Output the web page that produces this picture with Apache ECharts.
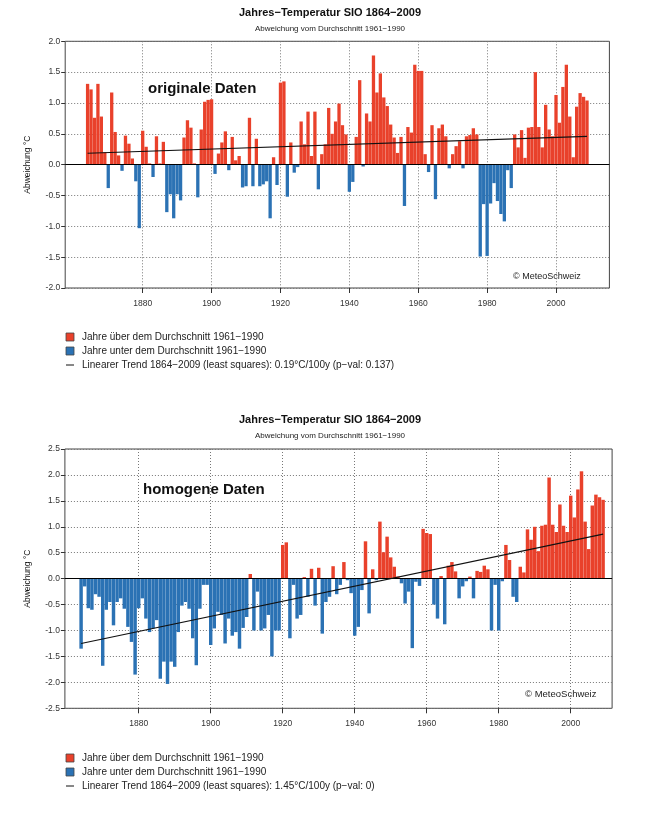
<!DOCTYPE html>
<html><head><meta charset="utf-8">
<script src="https://cdn.jsdelivr.net/npm/echarts@6/dist/echarts.min.js"></script>
<style>html,body{margin:0;padding:0;background:#fff}#c{width:664px;height:815px}</style>
</head><body><div id="c"></div>
<script>
// ---------------- DATA ----------------
const firstYear = 1864, lastYear = 2009;
const tickYears = [1880, 1900, 1920, 1940, 1960, 1980, 2000];

// Jahresabweichung, originale Daten (1864-2009)
const originalValues = [
  1.31,1.22,0.76,1.31,0.78,0.2,-0.38,1.17,0.53,0.15,-0.1,0.47,0.34,0.1,-0.27,-1.03,
  0.55,0.29,0.02,-0.2,0.46,0.02,0.37,-0.77,-0.48,-0.87,-0.48,-0.58,0.44,0.72,0.6,0.02,-0.53,0.57,1.02,1.05,
  1.06,-0.15,0.18,0.36,0.54,-0.09,0.45,0.07,0.14,-0.37,-0.35,0.76,-0.35,0.42,-0.35,-0.32,-0.27,-0.87,0.12,-0.33,
  1.33,1.35,-0.52,0.36,-0.13,-0.04,0.7,0.33,0.86,0.14,0.86,-0.4,0.17,0.33,0.92,0.5,0.7,0.99,0.64,0.49,
  -0.44,-0.28,0.45,1.37,-0.03,0.83,0.7,1.77,1.17,1.48,1.09,0.95,0.65,0.44,0.19,0.45,-0.67,0.61,0.52,1.62,
  1.52,1.52,0.17,-0.12,0.64,-0.56,0.59,0.65,0.46,-0.06,0.17,0.3,0.38,-0.06,0.46,0.48,0.59,0.49,-1.49,-0.64,
  -1.48,-0.63,-0.3,-0.59,-0.8,-0.92,-0.09,-0.38,0.49,0.28,0.56,0.11,0.6,0.61,1.5,0.61,0.28,0.97,0.57,0.46,
  1.13,0.68,1.26,1.62,0.78,0.12,0.94,1.16,1.1,1.04
];
// Jahresabweichung, homogene Daten (1864-2009)
const homogeneousValues = [
  -1.35,-0.15,-0.57,-0.6,-0.3,-0.35,-1.68,-0.6,-0.45,-0.9,-0.45,-0.38,-0.58,-0.93,-1.22,-1.85,
  -0.57,-0.38,-0.77,-1.03,-0.96,-0.8,-1.93,-1.6,-2.03,-1.6,-1.7,-1.03,-0.52,-0.45,-0.58,-1.15,-1.67,-0.58,-0.12,-0.12,
  -1.28,-0.96,-0.64,-0.7,-1.25,-0.77,-1.1,-1.03,-1.35,-0.95,-0.74,0.09,-1.0,-0.25,-1.0,-0.96,-0.7,-1.5,-1.0,-1.0,
  0.65,0.7,-1.15,-0.12,-0.77,-0.7,0.03,-0.35,0.19,-0.52,0.21,-1.06,-0.45,-0.35,0.24,-0.3,-0.12,0.32,-0.03,-0.28,
  -1.1,-0.93,-0.22,0.72,-0.67,0.18,-0.03,1.1,0.51,0.81,0.41,0.23,0.04,-0.09,-0.48,-0.25,-1.34,-0.06,-0.14,0.96,
  0.88,0.86,-0.5,-0.77,0.05,-0.88,0.25,0.32,0.14,-0.38,-0.15,-0.05,0.04,-0.38,0.15,0.13,0.25,0.18,-1.0,-0.12,
  -1.0,-0.05,0.65,0.36,-0.35,-0.45,0.23,0.12,0.95,0.75,1.0,0.53,1.02,1.04,1.95,1.04,0.9,1.43,1.02,0.9,
  1.6,1.18,1.72,2.07,1.1,0.57,1.41,1.62,1.57,1.52
];
// Linearer Trend: Wert im ersten und letzten Jahr
const trendOriginal = [0.185, 0.46];
const trendHomogeneous = [-1.25, 0.86];

// axis category ranges (padding years so that the plot frame matches)
const topAxisYears = [1858, 2015];
const bottomAxisYears = [1860, 2011];

// ---------------- BUILD ----------------
const RED = '#e9412b', BLUE = '#2b72b4';
function cats(r) { const a = []; for (let y = r[0]; y <= r[1]; y++) a.push(String(y)); return a; }
function valueFor(c, vals) {
  const i = Number(c) - firstYear;
  return (i >= 0 && i < vals.length) ? vals[i] : null;
}
function pos(c, vals) { const v = valueFor(c, vals); return (v !== null && v >= 0) ? v : null; }
function neg(c, vals) { const v = valueFor(c, vals); return (v !== null && v < 0) ? v : null; }
function trend(c, t) {
  if (Number(c) === firstYear) return t[0];
  if (Number(c) === lastYear) return t[1];
  return null;
}
const catsTop = cats(topAxisYears), catsBot = cats(bottomAxisYears);
const isTick = (i, v) => tickYears.indexOf(Number(v)) >= 0;
const FONT = '"Liberation Sans", Arial, sans-serif';
const NARROW = '"Liberation Sans Narrow", "Arial Narrow", "Liberation Sans", sans-serif';

function xAxisCfg(g, data) {
  return {
    type: 'category', gridIndex: g, data: data, boundaryGap: true,
    axisLine: { show: false, onZero: false },
    axisTick: { show: true, alignWithLabel: true, interval: isTick, length: 5, lineStyle: { color: '#333' } },
    axisLabel: { interval: isTick, fontSize: 8.5, color: '#333', margin: 11, fontFamily: FONT },
    splitLine: { show: true, interval: isTick, alignWithLabel: true, lineStyle: { type: [1, 2], color: '#777', width: 1 } }
  };
}
function yAxisCfg(g, lim) {
  return {
    type: 'value', gridIndex: g, min: -lim, max: lim, interval: 0.5,
    axisLine: { show: false },
    axisTick: { show: true, length: 4, lineStyle: { color: '#333' } },
    axisLabel: { formatter: v => v.toFixed(1), fontSize: 8.5, color: '#333', margin: 5, fontFamily: FONT },
    splitLine: { show: true, lineStyle: { type: [1, 2], color: '#777', width: 1 } },
    name: 'Abweichung °C', nameLocation: 'middle', nameGap: 33,
    nameTextStyle: { fontSize: 8.5, color: '#111', fontFamily: FONT }
  };
}
function barSeries(name, g, data, color, withZero) {
  const s = {
    name: name, type: 'bar', xAxisIndex: g, yAxisIndex: g, data: data,
    barCategoryGap: '4%', barGap: '-100%', itemStyle: { color: color }, silent: true, animation: false
  };
  if (withZero) {
    s.markLine = { silent: true, symbol: 'none', label: { show: false }, animation: false,
      lineStyle: { color: '#000', width: 1, type: 'solid' }, data: [{ yAxis: 0 }] };
  }
  return s;
}
function trendSeries(name, g, data) {
  return { name: name, type: 'line', xAxisIndex: g, yAxisIndex: g, data: data, connectNulls: true,
    showSymbol: false, symbol: 'none', lineStyle: { color: '#111', width: 1.2 }, z: 5, silent: true, animation: false };
}

const legAbove = 'Jahre über dem Durchschnitt 1961−1990';
const legBelow = 'Jahre unter dem Durchschnitt 1961−1990';
const legTrendTop = 'Linearer Trend 1864−2009 (least squares): 0.19°C/100y (p−val: 0.137)';
const legTrendBot = 'Linearer Trend 1864−2009 (least squares): 1.45°C/100y (p−val: 0)';

function txt(x, y, s, font, align, color) {
  return { type: 'text', x: x, y: y, silent: true,
    style: { text: s, font: font, fill: color || '#222', textAlign: align || 'left', align: align || 'left',
      textVerticalAlign: 'middle', verticalAlign: 'middle' } };
}
function legendBlock(y0, trendText) {
  return [
    { type: 'rect', shape: { x: 66, y: y0 - 4, width: 8, height: 8 }, style: { fill: RED, stroke: '#444', lineWidth: 0.8 }, silent: true },
    txt(82, y0, legAbove, '10px ' + FONT),
    { type: 'rect', shape: { x: 66, y: y0 + 10, width: 8, height: 8 }, style: { fill: BLUE, stroke: '#444', lineWidth: 0.8 }, silent: true },
    txt(82, y0 + 14, legBelow, '10px ' + FONT),
    { type: 'line', shape: { x1: 66, y1: y0 + 28, x2: 74, y2: y0 + 28 }, style: { stroke: '#111', lineWidth: 1 }, silent: true },
    txt(82, y0 + 28, trendText, '10px ' + FONT)
  ];
}

const option = {
  backgroundColor: '#fff',
  animation: false,
  textStyle: { fontFamily: FONT },
  grid: [
    { left: 65.2, top: 41.3, width: 544.2, height: 246.7, show: true, borderColor: '#444', borderWidth: 1, backgroundColor: 'rgba(0,0,0,0)' },
    { left: 64.9, top: 449, width: 547.2, height: 259.3, show: true, borderColor: '#444', borderWidth: 1, backgroundColor: 'rgba(0,0,0,0)' }
  ],
  xAxis: [xAxisCfg(0, catsTop), xAxisCfg(1, catsBot)],
  yAxis: [yAxisCfg(0, 2), yAxisCfg(1, 2.5)],
  series: [
    barSeries(legAbove, 0, catsTop.map(c => pos(c, originalValues)), RED, true),
    barSeries(legBelow, 0, catsTop.map(c => neg(c, originalValues)), BLUE, false),
    trendSeries(legTrendTop, 0, catsTop.map(c => trend(c, trendOriginal))),
    barSeries(legAbove, 1, catsBot.map(c => pos(c, homogeneousValues)), RED, true),
    barSeries(legBelow, 1, catsBot.map(c => neg(c, homogeneousValues)), BLUE, false),
    trendSeries(legTrendBot, 1, catsBot.map(c => trend(c, trendHomogeneous)))
  ],
  graphic: [
    txt(330, 13, 'Jahres−Temperatur SIO 1864−2009', 'bold 11px ' + NARROW, 'center', '#111'),
    txt(330, 29, 'Abweichung vom Durchschnitt 1961−1990', '8px ' + FONT, 'center', '#222'),
    txt(148, 89, 'originale Daten', 'bold 15px ' + FONT, 'left', '#111'),
    txt(513, 277, '© MeteoSchweiz', '9px ' + FONT, 'left', '#222'),
    txt(330, 420, 'Jahres−Temperatur SIO 1864−2009', 'bold 11px ' + NARROW, 'center', '#111'),
    txt(330, 436, 'Abweichung vom Durchschnitt 1961−1990', '8px ' + FONT, 'center', '#222'),
    txt(143, 490, 'homogene Daten', 'bold 15px ' + FONT, 'left', '#111'),
    txt(525, 694, '© MeteoSchweiz', '9.5px ' + FONT, 'left', '#222')
  ].concat(legendBlock(337, legTrendTop), legendBlock(758, legTrendBot))
};
const chart = echarts.init(document.getElementById('c'), null, { renderer: 'canvas' });
chart.setOption(option);
</script></body></html>
